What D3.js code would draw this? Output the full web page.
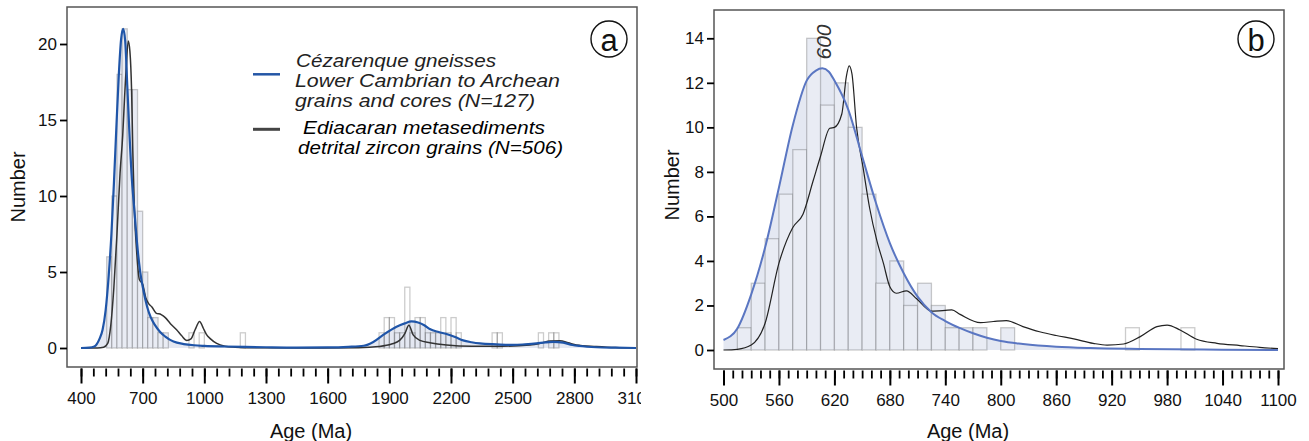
<!DOCTYPE html>
<html>
<head>
<meta charset="UTF-8" />
<style>
  body { margin: 0; background: #fff; }
  svg text { font-family: "Liberation Sans", Arial, Helvetica, sans-serif; }
</style>
</head>
<body>
<svg id="chart" width="1309" height="441"></svg>
<script src="https://d3js.org/d3.v7.min.js"></script>
<script>
// ---- panel a : histogram (25 Ma bins) ----
const binWidthA = 25;
const binStartA = [525, 550, 575, 600, 625, 650, 675, 700, 725, 750, 775, 800, 925, 975, 1175,
  1850, 1875, 1900, 1925, 1950, 1975, 2000, 2025, 2050, 2075, 2100, 2125, 2150, 2175, 2200, 2225,
  2400, 2425, 2625, 2675, 2700];
const countA = [6, 10, 18, 21, 17, 17, 9, 5, 2, 2, 1, 1, 1, 1, 1,
  1, 2, 2, 1, 1, 4, 1, 2, 2, 1, 1, 1, 2, 1, 2, 1,
  1, 1, 1, 1, 1];

// panel a : density curves [age, number]
const blueA = [[400,0],[440,0.02],[465,0.1],[490,0.6],[505,1.2],[520,2.5],[535,4.8],[548,7.5],[560,10.8],
  [572,14.5],[584,18],[595,20.3],[605,21],[615,20.2],[625,17.3],[635,14.3],[648,11],[660,9],[672,7],
  [688,5],[705,3.7],[722,2.7],[740,2],[760,1.5],[785,1.05],[810,0.75],[850,0.42],[900,0.26],[950,0.18],
  [1000,0.14],[1100,0.1],[1200,0.07],[1300,0.05],[1450,0.03],[1600,0.04],[1700,0.08],[1775,0.15],
  [1822,0.4],[1870,0.86],[1935,1.4],[1975,1.62],[2008,1.75],[2040,1.68],[2070,1.5],[2097,1.25],
  [2140,1.05],[2178,0.92],[2220,0.72],[2259,0.5],[2300,0.38],[2341,0.3],[2422,0.24],[2503,0.2],
  [2560,0.24],[2616,0.3],[2660,0.37],[2697,0.4],[2746,0.35],[2790,0.2],[2827,0.13],[2908,0.05],
  [3000,0.02],[3100,0]];
const blackA = [[400,0],[480,0],[510,0.05],[530,0.3],[545,1.5],[560,4],[575,7.5],[590,11.5],[603,14],
  [612,16.5],[620,18.5],[630,20.2],[638,19.5],[646,17],[652,13],[660,9],[670,6.5],[684,4.5],[700,4.2],
  [715,3.3],[730,2.9],[745,2.7],[765,2.3],[790,2.2],[810,2.0],[835,1.6],[865,1.2],[890,0.8],[915,0.5],
  [935,0.6],[955,1.2],[977,1.75],[995,1.3],[1010,0.9],[1030,0.6],[1060,0.3],[1100,0.12],[1150,0.05],
  [1200,0.02],[1500,0],[1750,0.02],[1850,0.1],[1911,0.26],[1950,0.5],[1976,0.97],[1995,1.5],
  [2016,0.86],[2049,0.5],[2097,0.35],[2178,0.2],[2300,0.12],[2450,0.12],[2584,0.2],[2640,0.33],
  [2681,0.46],[2730,0.48],[2770,0.35],[2810,0.2],[2907,0.1],[3000,0.03],[3100,0]];

const xTicksA = d3.range(400, 3101, 300);
const xMinorA = d3.range(400, 3101, 60);
const yTicksA = [0, 5, 10, 15, 20];

// ---- panel b : histogram (15 Ma bins) ----
const binWidthB = 15;
const binStartB = [515, 530, 545, 560, 575, 590, 605, 620, 635, 650, 665, 680, 695, 710, 725,
  740, 755, 770, 800, 935, 995];
const countB = [1, 3, 5, 7, 9, 14, 11, 12, 10, 7, 3, 4, 2, 3, 2, 1, 1, 1, 1, 1, 1];

const blueB = [[500,0.45],[515,0.97],[530,2.5],[545,4.6],[560,7.3],[575,10.1],[590,12.1],[600,12.55],
  [607,12.65],[614,12.5],[620,12.1],[635,10.8],[650,8.7],[665,6.6],[680,4.8],[695,3.45],[710,2.4],
  [725,1.7],[740,1.3],[756,0.98],[770,0.75],[785,0.55],[800,0.4],[824,0.27],[860,0.15],[897,0.09],
  [950,0.05],[1020,0.02],[1100,0]];
const blackB = [[500,0],[515,0.03],[530,0.22],[545,1.2],[560,3.9],[575,5.5],[586,6.1],[597,7.6],
  [605,8.7],[615,9.96],[620,10.0],[628,10.6],[633,12.3],[636,12.76],[639,12.4],[644,10],[651,8.2],
  [658,6.4],[666,4.9],[673,3.9],[680,2.84],[687,2.55],[698,2.66],[709,2.3],[725,1.75],[740,1.78],
  [747,1.8],[756,1.6],[778,1.23],[792,1.28],[806,1.32],[824,1.05],[842,0.82],[860,0.65],[879,0.5],
  [900,0.3],[915,0.22],[933,0.27],[951,0.6],[969,1.05],[980,1.12],[994,0.9],[1012,0.48],[1034,0.3],
  [1059,0.2],[1080,0.12],[1100,0.06]];

const xTicksB = d3.range(500, 1101, 60);
const xMinorB = d3.range(500, 1101, 10);
const yTicksB = d3.range(0, 15, 2);

const legendA = [
  { color: "#2456a6", width: 2.5, lines: ["Cézarenque gneisses", "Lower Cambrian to Archean", "grains and cores (N=127)"] },
  { color: "#444", width: 3, lines: ["Ediacaran metasediments", "detrital zircon grains (N=506)"] }
];

const svg = d3.select("#chart");
svg.append("rect").attr("width", 1309).attr("height", 441).attr("fill", "#fff");

// the original figure is cropped just right of panel a
svg.append("defs").append("clipPath").attr("id", "clipA")
  .append("rect").attr("x", 0).attr("y", 0).attr("width", 641).attr("height", 441);

function panel(cfg) {
  const g = svg.append("g");
  if (cfg.clip) g.attr("clip-path", "url(#" + cfg.clip + ")");
  const x = cfg.x, y = cfg.y;
  const base = y(0);

  // area under blue density
  g.append("path")
    .datum(cfg.blue)
    .attr("fill", "#e4e8f2")
    .attr("d", d3.area().x(d => x(d[0])).y0(base).y1(d => y(d[1])).curve(d3.curveMonotoneX));

  // histogram bars
  g.append("g").selectAll("rect")
    .data(cfg.bins.map((s, i) => ({ s: s, c: cfg.counts[i] })))
    .join("rect")
    .attr("x", d => x(d.s))
    .attr("y", d => y(d.c))
    .attr("width", d => x(d.s + cfg.bw) - x(d.s))
    .attr("height", d => base - y(d.c))
    .attr("fill", d => d.s < 850 ? "#e9ecf4" : "none")
    .attr("stroke", "#000")
    .attr("stroke-opacity", 0.2)
    .attr("stroke-width", 1.3);

  const line = d3.line().x(d => x(d[0])).y(d => y(d[1])).curve(d3.curveMonotoneX);
  g.append("path").datum(cfg.black).attr("fill", "none")
    .attr("stroke", cfg.blackColor).attr("stroke-width", cfg.blackWidth).attr("d", line);
  g.append("path").datum(cfg.blue).attr("fill", "none")
    .attr("stroke", cfg.blueColor).attr("stroke-width", cfg.blueWidth).attr("d", line);

  // frame
  g.append("rect")
    .attr("x", cfg.frame[0]).attr("y", cfg.frame[1])
    .attr("width", cfg.frame[2]).attr("height", cfg.frame[3])
    .attr("fill", "none").attr("stroke", "#555").attr("stroke-width", 1.5);

  // y axis
  const ya = g.append("g")
    .attr("transform", "translate(" + cfg.frame[0] + ",0)")
    .call(d3.axisLeft(y).tickValues(cfg.yTicks).tickSize(7).tickPadding(3).tickFormat(d3.format("d")));
  ya.select(".domain").remove();
  ya.selectAll("line").attr("stroke-width", 1.8);
  ya.selectAll("text").attr("font-size", 17).attr("fill", "#111")
    .attr("font-family", "Liberation Sans, Arial, sans-serif");

  // x axis, minor then major
  const axisY = cfg.frame[1] + cfg.frame[3] + 1.5;
  const xm = g.append("g").attr("transform", "translate(0," + axisY + ")")
    .call(d3.axisBottom(x).tickValues(cfg.xMinor).tickSize(8).tickFormat(""));
  xm.select(".domain").remove();
  xm.selectAll("line").attr("stroke-width", 1.8);
  const xa = g.append("g").attr("transform", "translate(0," + axisY + ")")
    .call(d3.axisBottom(x).tickValues(cfg.xTicks).tickSize(15).tickPadding(8).tickFormat(d3.format("d")));
  xa.select(".domain").remove();
  xa.selectAll("line").attr("stroke-width", 2);
  xa.selectAll("text").attr("font-size", 17).attr("fill", "#111")
    .attr("font-family", "Liberation Sans, Arial, sans-serif");

  // titles
  g.append("text").attr("x", cfg.xTitle[0]).attr("y", cfg.xTitle[1])
    .attr("text-anchor", "middle").attr("font-size", 20).attr("fill", "#111").text("Age (Ma)");
  g.append("text")
    .attr("transform", "translate(" + cfg.yTitle[0] + "," + cfg.yTitle[1] + ") rotate(-90)")
    .attr("text-anchor", "middle").attr("dominant-baseline", "central")
    .attr("font-size", 20).attr("fill", "#111").text("Number");

  // panel letter
  g.append("circle").attr("cx", cfg.letter[0]).attr("cy", cfg.letter[1]).attr("r", 18)
    .attr("fill", "#fff").attr("stroke", "#111").attr("stroke-width", 1.4);
  g.append("text").attr("x", cfg.letter[0]).attr("y", cfg.letter[1] + 1)
    .attr("text-anchor", "middle").attr("dominant-baseline", "central")
    .attr("font-size", 31).attr("fill", "#111").text(cfg.letter[2]);
  return g;
}

const xA = d3.scaleLinear().domain([400, 3100]).range([81, 636]);
const yA = d3.scaleLinear().domain([0, 20]).range([348, 44]);
panel({
  x: xA, y: yA, bins: binStartA, counts: countA, bw: binWidthA,
  blue: blueA, black: blackA, clip: "clipA",
  blueColor: "#1f55a8", blueWidth: 2.2, blackColor: "#333", blackWidth: 1.5,
  frame: [67, 7, 570, 360], xTicks: xTicksA, xMinor: xMinorA, yTicks: yTicksA,
  xTitle: [311, 438], yTitle: [18, 187], letter: [609, 39, "a"]
});

// legend panel a
legendA.forEach((item, i) => {
  const ly = i === 0 ? 74.3 : 129.3;
  svg.append("line").attr("x1", 253).attr("x2", 280).attr("y1", ly).attr("y2", ly)
    .attr("stroke", item.color).attr("stroke-width", item.width);
});
const legendLines = [
  { t: "Cézarenque gneisses", x: 296, y: 66.5, w: 200, c: "#222" },
  { t: "Lower Cambrian to Archean", x: 295, y: 86.7, w: 265, c: "#222" },
  { t: "grains and cores (N=127)", x: 295, y: 106.5, w: 240, c: "#222" },
  { t: "Ediacaran metasediments", x: 303, y: 133.5, w: 242, c: "#000" },
  { t: "detrital zircon grains (N=506)", x: 298, y: 154.3, w: 265, c: "#000" }
];
svg.append("g").selectAll("text").data(legendLines).join("text")
  .attr("x", d => d.x).attr("y", d => d.y)
  .attr("textLength", d => d.w).attr("lengthAdjust", "spacingAndGlyphs")
  .attr("font-size", 18.5).attr("font-style", "italic").attr("fill", d => d.c)
  .text(d => d.t);

const xB = d3.scaleLinear().domain([500, 1100]).range([723.5, 1278]);
const yB = d3.scaleLinear().domain([0, 14]).range([350, 38.3]);
panel({
  x: xB, y: yB, bins: binStartB, counts: countB, bw: binWidthB,
  blue: blueB, black: blackB,
  blueColor: "#5a76c2", blueWidth: 2, blackColor: "#222", blackWidth: 1.2,
  frame: [714, 10, 570, 359], xTicks: xTicksB, xMinor: xMinorB, yTicks: yTicksB,
  xTitle: [968, 438], yTitle: [672, 185], letter: [1256, 39, "b"]
});

// peak label
svg.append("text")
  .attr("transform", "translate(" + (xB(607) + 1) + ",42) rotate(-90)")
  .attr("text-anchor", "middle").attr("dominant-baseline", "central")
  .attr("font-size", 21).attr("font-style", "italic").attr("fill", "#333").text("600");
</script>
</body>
</html>
